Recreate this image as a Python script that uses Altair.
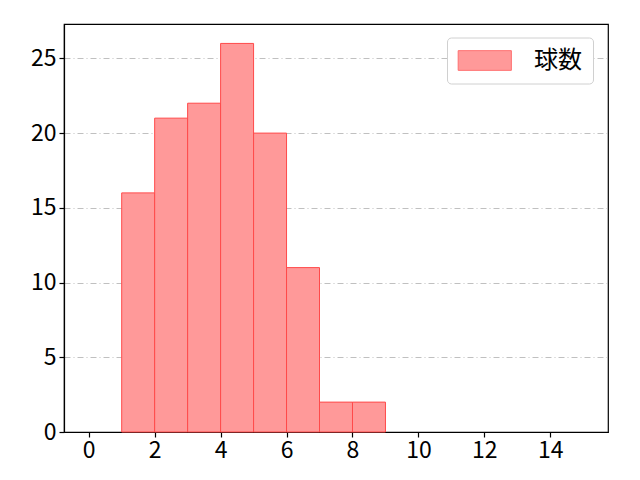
import altair as alt
import pandas as pd

bin_start = [1, 2, 3, 4, 5, 6, 7, 8]
bin_end = [2, 3, 4, 5, 6, 7, 8, 9]
counts = [16, 21, 22, 26, 20, 11, 2, 2]
series = ["球数"] * len(counts)
x_ticks = [0, 2, 4, 6, 8, 10, 12, 14]
y_ticks = [0, 5, 10, 15, 20, 25]

df = pd.DataFrame({"start": bin_start, "end": bin_end, "count": counts, "series": series})

FONT = "Noto Sans CJK JP"
FS = 23

bars = alt.Chart(df).mark_bar(
    stroke="#ff4a4a", strokeWidth=1, opacity=1
).encode(
    x=alt.X("start:Q",
            scale=alt.Scale(domain=[-0.75, 15.75], nice=False, zero=False),
            axis=alt.Axis(values=x_ticks, title=None, grid=False, format="d",
                          labelFontSize=FS, labelColor="black", labelFont=FONT,
                          tickColor="black", domainColor="black", tickSize=5,
                          labelPadding=2, labelFlush=False)),
    x2="end:Q",
    y=alt.Y("count:Q",
            scale=alt.Scale(domain=[0, 27.3], nice=False),
            axis=alt.Axis(values=y_ticks, title=None, grid=True, gridColor="#b0b0b0",
                          gridDash=[6, 3, 1, 3], gridWidth=0.8, format="d",
                          labelFontSize=FS, labelColor="black", labelFont=FONT,
                          tickColor="black", domainColor="black", tickSize=5,
                          labelPadding=3)),
    y2=alt.datum(0),
    color=alt.Color("series:N",
                    scale=alt.Scale(domain=["球数"], range=["#ff9999"]),
                    legend=alt.Legend(title=None, orient="none", legendX=383, legendY=13.5,
                                      symbolType="M-1.2,-1H4.2V1H-1.2Z", symbolSize=388,
                                      symbolStrokeColor="#ff7070", symbolStrokeWidth=1,
                                      symbolOpacity=1,
                                      labelFontSize=24, labelFont=FONT, labelColor="black",
                                      labelOffset=52, padding=11,
                                      strokeColor="#d0d0d0", fillColor="white",
                                      cornerRadius=4)),
)

chart = bars.properties(
    width=544, height=408,
    padding={"left": 56, "top": 16, "right": 24, "bottom": 40},
    autosize=alt.AutoSizeParams(type="none"),
).configure_view(
    stroke="black", strokeWidth=1.2
).configure_axis(
    domainWidth=1.2, tickWidth=1.2
)

chart.save("out.html", embed_options={"renderer": "svg", "actions": False})
